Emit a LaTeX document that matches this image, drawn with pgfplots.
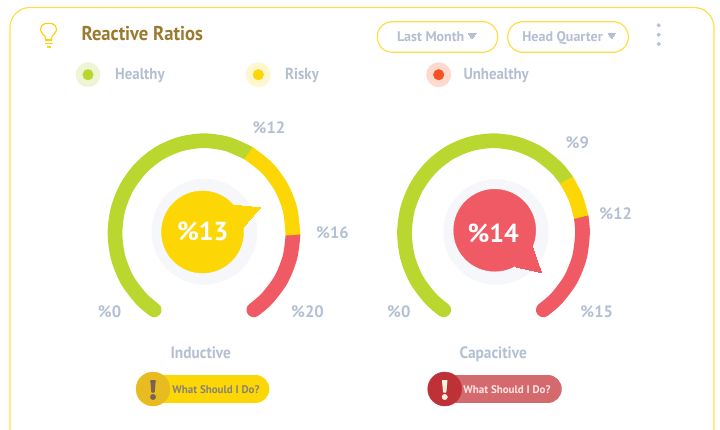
\documentclass[border=0pt]{standalone}
\usepackage{pgfplots}
\pgfplotsset{compat=1.18}
\usepackage{fontspec}
\setmainfont{PT Sans}
\definecolor{gr}{HTML}{BAD730}
\definecolor{ye}{HTML}{FCD705}
\definecolor{re}{HTML}{F05A64}
\definecolor{tx}{HTML}{B4BFD2}
\definecolor{ha}{HTML}{F5F7FA}
\definecolor{br}{HTML}{9A7A2E}
\definecolor{bd}{HTML}{FDDE4A}
\definecolor{grh}{HTML}{EEF4D6}
\definecolor{yeh}{HTML}{FFF6CD}
\definecolor{reh}{HTML}{FDD9CE}
\definecolor{red2}{HTML}{F55224}
\definecolor{pillr}{HTML}{D4696E}
\definecolor{circy}{HTML}{E8BC20}
\definecolor{circr}{HTML}{BE3237}
\definecolor{exy}{HTML}{7A6055}
\definecolor{exr}{HTML}{FBF0DC}
\newcommand{\nar}[1]{\scalebox{0.93}[1]{#1}}
\begin{document}
\begin{tikzpicture}
\useasboundingbox (0,0) rectangle (720pt,430pt);
\begin{axis}[
  at={(0,0)}, anchor=south west,
  scale only axis, width=720pt, height=430pt,
  xmin=0, xmax=720, ymin=0, ymax=430, y dir=reverse,
  hide axis, clip=true, clip marker paths=true,
]
% card
\draw[bd, line width=1.2pt, rounded corners=20pt] (axis cs:10,440) -- (axis cs:10,7.5) -- (axis cs:714,7.5) -- (axis cs:714,440);
% legend dots
\addplot[only marks, mark=*, mark size=12.2pt, color=grh] coordinates {(88,74.7)};
\addplot[only marks, mark=*, mark size=5.3pt, color=gr] coordinates {(88,74.7)};
\addplot[only marks, mark=*, mark size=12.2pt, color=yeh] coordinates {(258.3,74.7)};
\addplot[only marks, mark=*, mark size=5.3pt, color=ye] coordinates {(258.3,74.7)};
\addplot[only marks, mark=*, mark size=12.2pt, color=reh] coordinates {(438.7,74.7)};
\addplot[only marks, mark=*, mark size=5.3pt, color=red2] coordinates {(438.7,74.7)};
% halos
\addplot[only marks, mark=*, mark size=52.7pt, color=ha] coordinates {(204.5,231.7)};
\addplot[only marks, mark=*, mark size=52.5pt, color=ha] coordinates {(496,232)};
% gauge 1
\addplot[gr, line width=14.7pt, line cap=round, smooth] coordinates {
(154.2,309.9)(141.1,298.6)(126.9,279.5)(118.0,257.1)(115,233.2)(118.0,209.3)(126.9,187.0)(141.1,167.8)(159.5,153.1)(181.0,143.9)(204,140.7)(227.0,143.9)(248.5,153.1)};
\addplot[re, line width=14.7pt, line cap=round, smooth] coordinates {
(293,235)(290,257.1)(281.1,279.5)(266.9,298.6)(253.8,309.9)};
\addplot[ye, line width=14.7pt, smooth] coordinates {(248.5,153.1)(266.9,167.8)(281.1,187.0)(290,209.3)(293,235)};
% gauge 2
\addplot[gr, line width=14.7pt, line cap=round, smooth] coordinates {
(443.7,309.9)(430.6,298.6)(416.4,279.5)(407.5,257.1)(404.5,233.2)(407.5,209.3)(416.4,187.0)(430.6,167.8)(449,153.1)(470.5,143.9)(493.5,140.7)(516.5,143.9)(538,153.1)(556.4,167.8)(566.4,180.1)};
\addplot[re, line width=14.7pt, line cap=round, smooth] coordinates {
(581.2,217.1)(582.5,233.2)(579.5,257.1)(570.6,279.5)(556.4,298.6)(543.3,309.9)};
\addplot[ye, line width=14.7pt, smooth] coordinates {(566.4,180.1)(575.7,197.8)(581.2,217.1)};
% bubbles
\addplot[only marks, mark=*, mark size=41pt, color=ye] coordinates {(202.5,232)};
\addplot[ye, fill=ye, line width=0pt] coordinates {(231.7,205)(260.3,207.7)(243.3,227.3)} -- cycle;
\addplot[only marks, mark=*, mark size=41pt, color=re] coordinates {(494.7,230.3)};
\addplot[re, fill=re, line width=0pt] coordinates {(532.3,246)(541.7,272.7)(515,266.7)} -- cycle;
\node[text=white, inner sep=0pt, anchor=base, font=\bfseries\fontsize{26}{26}\selectfont] at (axis cs:202.7,240.7) {\%13};
\node[text=white, inner sep=0pt, anchor=base, font=\bfseries\fontsize{26}{26}\selectfont] at (axis cs:493.3,242.5) {\%14};
% buttons
\addplot[ye, line width=27.7pt, line cap=round] coordinates {(165,389)(255.5,389)};
\addplot[only marks, mark=*, mark size=17pt, color=circy] coordinates {(153,389)};
\addplot[pillr, line width=27.7pt, line cap=round] coordinates {(456,389)(547.9,389)};
\addplot[only marks, mark=*, mark size=17pt, color=circr] coordinates {(444.7,389)};
\addplot[exy, fill=exy, line width=1pt, line join=round] coordinates {(150.8,380.5)(155.2,380.5)(154.2,392)(151.8,392)} -- cycle;
\addplot[only marks, mark=*, mark size=2.7pt, color=exy] coordinates {(153,397)};
\addplot[exr, fill=exr, line width=1pt, line join=round] coordinates {(442.5,380.5)(446.9,380.5)(445.9,392)(443.5,392)} -- cycle;
\addplot[only marks, mark=*, mark size=2.7pt, color=exr] coordinates {(444.7,397)};
\node[text={rgb,255:red,135;green,130;blue,120}, inner sep=0pt, anchor=base, font=\bfseries\fontsize{11}{11}\selectfont] at (axis cs:216,393.2) {What Should I Do?};
\node[text=white!90!red, inner sep=0pt, anchor=base, font=\bfseries\fontsize{11}{11}\selectfont] at (axis cs:507,393.2) {What Should I Do?};
% title
\node[text=br, inner sep=0pt, anchor=base west, font=\bfseries\fontsize{20}{20}\selectfont] at (axis cs:81.5,40.7) {\nar{Reactive Ratios}};
% legend and labels
\tikzset{lab/.style={text=tx, inner sep=0pt, anchor=base, font=\bfseries\fontsize{16.5}{16.5}\selectfont}}
\tikzset{leg/.style={text=tx, inner sep=0pt, anchor=base west, font=\bfseries\fontsize{16}{16}\selectfont}}
\node[leg] at (axis cs:115,80) {\nar{Healthy}};
\node[leg] at (axis cs:285,80) {\nar{Risky}};
\node[leg] at (axis cs:463.3,80) {\nar{Unhealthy}};
\node[lab] at (axis cs:269,133.3) {\%12};
\node[lab] at (axis cs:332.5,238.7) {\%16};
\node[lab] at (axis cs:307.5,317) {\%20};
\node[lab] at (axis cs:109.5,317) {\%0};
\node[lab] at (axis cs:577.3,148.7) {\%9};
\node[lab] at (axis cs:615.7,220) {\%12};
\node[lab] at (axis cs:596.7,317) {\%15};
\node[lab] at (axis cs:398.8,317) {\%0};
\node[lab] at (axis cs:200.8,358.3) {\nar{Inductive}};
\node[lab] at (axis cs:493.2,358.3) {\nar{Capacitive}};
% dropdowns
\draw[bd, line width=1.2pt, rounded corners=15pt, fill=white] (axis cs:377.3,21.7) rectangle (axis cs:497.7,52.3);
\draw[bd, line width=1.2pt, rounded corners=15pt, fill=white] (axis cs:507.7,21.7) rectangle (axis cs:628.3,52.3);
\node[text=tx, inner sep=0pt, anchor=base, font=\bfseries\fontsize{14}{14}\selectfont] at (axis cs:430.7,42) {Last Month};
\node[text=tx, inner sep=0pt, anchor=base, font=\bfseries\fontsize{14}{14}\selectfont] at (axis cs:562.5,42) {Head Quarter};
\addplot[tx, fill=tx, line width=0pt] coordinates {(468.3,33.3)(476,33.3)(472.2,38.7)} -- cycle;
\addplot[tx, fill=tx, line width=0pt] coordinates {(608,33.3)(615.3,33.3)(611.7,38.7)} -- cycle;
\addplot[only marks, mark=*, mark size=1.8pt, color=tx] coordinates {(658.7,25.3)(658.7,34.7)(658.7,44)};
% bulb
\addplot[ye!90!orange, line width=1.1pt, smooth] coordinates {(45.3,40)(45,36.5)(42,33)(40.5,29.5)(41.5,26)(45,23.7)(48.5,23.3)(52,23.7)(55.5,26)(56.5,29.5)(55,33)(52,36.5)(51.7,40)};
\addplot[ye!90!orange, line width=1.1pt] coordinates {(45.3,40)(51.7,40)};
\addplot[ye, line width=1.5pt] coordinates {(45,43.3)(53,43.3)};
\addplot[ye, line width=1.5pt] coordinates {(47,46.8)(51,46.8)};
\end{axis}
\end{tikzpicture}
\end{document}
